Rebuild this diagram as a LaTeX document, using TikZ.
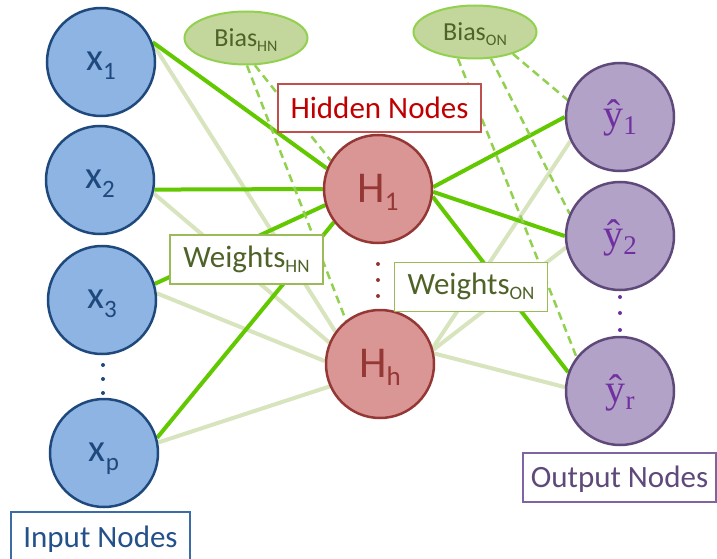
\documentclass[tikz,border=0pt]{standalone}
\usepackage{fontspec}
\setmainfont{Carlito}
\newfontfamily\hatfont{Liberation Serif}
\usetikzlibrary{shapes.geometric,backgrounds}

\definecolor{inFill}{HTML}{8DB4E2}
\definecolor{inDraw}{HTML}{1F497D}
\definecolor{inText}{HTML}{1F497D}
\definecolor{hidFill}{HTML}{D99694}
\definecolor{hidDraw}{HTML}{953735}
\definecolor{hidText}{HTML}{953735}
\definecolor{outFill}{HTML}{B3A2C7}
\definecolor{outDraw}{HTML}{5F497A}
\definecolor{outText}{HTML}{7030A0}
\definecolor{biasFill}{HTML}{C3D69B}
\definecolor{biasDraw}{HTML}{92D050}
\definecolor{olive}{HTML}{4F6228}
\definecolor{wStrong}{HTML}{62C800}
\definecolor{wWeak}{HTML}{D7E4BD}
\definecolor{wBoxDraw}{HTML}{9BBB59}
\definecolor{hidBoxDraw}{HTML}{C0504D}
\definecolor{hidBoxText}{HTML}{C00000}
\definecolor{inBoxDraw}{HTML}{3C6BA5}
\definecolor{inBoxText}{HTML}{24518A}
\definecolor{outBoxDraw}{HTML}{8064A2}
\definecolor{outBoxText}{HTML}{5F497A}

% lowered indices in the node labels
\newcommand\xsub[1]{\raisebox{-9pt}{\fontsize{25}{25}\selectfont #1}}
\newcommand\hsub[1]{\raisebox{-8pt}{\fontsize{27}{27}\selectfont #1}}
\newcommand\ysub[1]{\raisebox{-7pt}{\fontsize{27}{27}\selectfont #1}}
\newcommand\wsub[1]{\raisebox{-5pt}{\fontsize{19}{19}\selectfont #1}}
\newcommand\bsub[1]{\raisebox{-5pt}{\fontsize{16}{16}\selectfont #1}}

\begin{document}
\begin{tikzpicture}[x=1pt,y=-1pt,
  neuron/.style={circle,minimum size=108pt,inner sep=0pt,line width=2.5pt,text depth=0pt},
  innode/.style={neuron,fill=inFill,draw=inDraw,text=inText,
    font=\fontsize{39}{39}\selectfont,text height=17pt},
  hidnode/.style={neuron,fill=hidFill,draw=hidDraw,text=hidText,
    font=\fontsize{44}{44}\selectfont,text height=27pt},
  outnode/.style={neuron,fill=outFill,draw=outDraw,text=outText,
    font=\hatfont\fontsize{40}{40}\selectfont,text height=22pt},
  biasnode/.style={ellipse,minimum width=123pt,minimum height=53pt,inner sep=0pt,
    fill=biasFill,draw=biasDraw,line width=2pt,text=olive,
    font=\fontsize{26}{26}\selectfont,text height=18pt,text depth=0pt},
  lblbox/.style={rectangle,fill=white,inner sep=0pt,line width=1.5pt,
    font=\fontsize{31}{31}\selectfont,text height=20pt,text depth=0pt},
  wbox/.style={lblbox,draw=wBoxDraw,text=olive,minimum width=153pt,minimum height=49pt,text height=15pt},
  strong/.style={draw=wStrong,line width=4pt},
  weak/.style={draw=wWeak,line width=4pt},
  biaslink/.style={draw=biasDraw,line width=2.5pt,dash pattern=on 8pt off 5pt},
  dotmark/.style={radius=2pt}
]
\useasboundingbox (0,0) rectangle (717,559);

% input layer
\node[innode] (x1) at (101,62) {x\xsub{1}};
\node[innode] (x2) at (100,180) {x\xsub{2}};
\node[innode] (x3) at (102,300) {x\xsub{3}};
\node[innode] (xp) at (104,453) {x\xsub{p}};

% hidden layer
\node[hidnode] (h1) at (378,189) {H\hsub{1}};
\node[hidnode] (hh) at (380,364) {H\hsub{h}};

% output layer
\node[outnode] (y1) at (620,117) {ŷ\ysub{1}};
\node[outnode] (y2) at (620,236) {ŷ\ysub{2}};
\node[outnode] (yr) at (620,391) {ŷ\ysub{r}};

% bias terms
\node[biasnode] (bhn) at (246,38) {Bias\bsub{HN}};
\node[biasnode] (bon) at (475,32) {Bias\bsub{ON}};

% captions
\node[lblbox,draw=hidBoxDraw,text=hidBoxText,minimum width=203pt,minimum height=48pt] (hidlbl) at (379.5,108) {Hidden Nodes};
\node[wbox] (whn) at (246.5,259.5) {Weights\wsub{HN}};
\node[wbox] (won) at (471,287) {Weights\wsub{ON}};
\node[lblbox,draw=inBoxDraw,text=inBoxText,minimum width=179pt,minimum height=50pt] (inlbl) at (100.5,537) {Input Nodes};
\node[lblbox,draw=outBoxDraw,text=outBoxText,minimum width=193pt,minimum height=49pt] (outlbl) at (619.5,477.5) {Output Nodes};

% ellipsis dots
\fill[inDraw] (103,365) circle[dotmark] (103,379) circle[dotmark] (103,393) circle[dotmark];
\fill[hidDraw] (378,264) circle[dotmark] (378,280) circle[dotmark] (378,296) circle[dotmark];
\fill[outText] (620,297) circle[dotmark] (620,313) circle[dotmark] (620,330) circle[dotmark];

\begin{scope}[on background layer]
  % faint weights
  \draw[weak] (x1.18) -- (hh.144);
  \draw[weak] (x2.-14) -- (hh.157);
  \draw[weak] (x3.7) -- (hh.177);
  \draw[weak] (xp.11) -- (hh.204);
  \draw[weak] (hh.17) -- (y1.206);
  \draw[weak] (hh.15) -- (y2.192);
  \draw[weak] (hh.11) -- (yr.176);
  % strong weights
  \draw[strong] (x1.21) -- (h1.158);
  \draw[strong] (x2.-10) -- (h1.180);
  \draw[strong] (x3.17) -- (h1.197);
  \draw[strong] (xp.16) -- (h1.217);
  \draw[strong] (h1.2) -- (y1.180);
  \draw[strong] (h1.-3) -- (y2.180);
  \draw[strong] (h1.-8) -- (yr.160);
  % bias connections
  \draw[biaslink] (bhn.-88) -- (hh.128);
  \draw[biaslink] (bhn.-72) -- (h1.149);
  \draw[biaslink] (bon.-123) -- (yr.142);
  \draw[biaslink] (bon.-59) -- (y2.156);
  \draw[biaslink] (bon.-30) -- (y1.162);
\end{scope}
\end{tikzpicture}
\end{document}
